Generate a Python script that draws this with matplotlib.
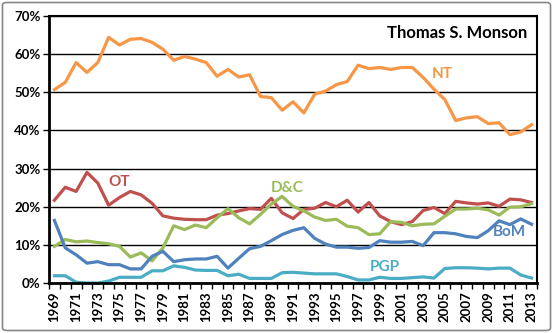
import numpy as np
import matplotlib
matplotlib.use("Agg")
from matplotlib import pyplot as plt
from matplotlib.patches import FancyBboxPatch

plt.rcParams["font.family"] = ["Lato", "DejaVu Sans"]
plt.rcParams["font.weight"] = "bold"

godine = list(range(1969, 2014))

nt = [50.7, 52.6, 57.8, 55.2, 57.8, 64.4, 62.4, 63.9, 64.1, 63.1,
      61.3, 58.4, 59.4, 58.7, 57.8, 54.2, 56.0, 54.0, 54.6, 48.9,
      48.6, 45.3, 47.5, 44.6, 49.5, 50.3, 52.0, 52.8, 57.1, 56.2,
      56.5, 56.0, 56.5, 56.5, 53.9, 50.8, 48.1, 42.6, 43.3, 43.6,
      41.8, 42.0, 38.9, 39.6, 41.5]
ot = [21.7, 25.1, 24.0, 29.0, 26.2, 20.4, 22.4, 24.0, 23.1, 20.9,
      17.6, 17.0, 16.7, 16.6, 16.6, 17.8, 18.2, 18.9, 19.5, 19.3,
      22.2, 18.4, 16.9, 19.3, 19.6, 21.1, 20.0, 21.7, 18.6, 21.1,
      17.6, 16.1, 15.3, 16.1, 19.0, 19.8, 18.2, 21.4, 21.0, 20.7,
      21.0, 20.1, 22.0, 21.8, 21.1]
dc = [9.6, 11.4, 10.8, 11.0, 10.6, 10.3, 9.6, 6.8, 7.9, 5.8,
      9.2, 15.0, 14.0, 15.2, 14.5, 17.1, 19.5, 17.1, 15.5, 18.0,
      20.7, 22.7, 20.1, 18.9, 17.3, 16.4, 16.7, 14.9, 14.5, 12.7,
      12.9, 16.1, 15.9, 15.0, 15.4, 15.5, 17.5, 19.4, 19.4, 19.6,
      19.2, 17.8, 19.9, 20.0, 20.8]
bom = [16.4, 9.2, 7.4, 5.2, 5.6, 4.8, 4.8, 3.7, 3.7, 7.0,
       8.3, 5.6, 6.1, 6.3, 6.3, 7.0, 3.9, 6.5, 9.0, 9.6,
       11.1, 12.7, 13.8, 14.5, 11.7, 10.2, 9.4, 9.4, 9.1, 9.3,
       11.1, 10.7, 10.7, 10.9, 9.8, 13.2, 13.2, 12.9, 12.2, 11.9,
       13.7, 16.3, 15.3, 16.8, 15.4]
pgp = [1.9, 1.9, 0.2, 0.0, 0.0, 0.5, 1.5, 1.5, 1.5, 3.2,
       3.2, 4.5, 4.1, 3.4, 3.3, 3.3, 1.9, 2.3, 1.2, 1.2,
       1.2, 2.7, 2.8, 2.6, 2.4, 2.4, 2.4, 1.7, 0.8, 0.8,
       1.5, 1.2, 1.2, 1.4, 1.6, 1.3, 3.8, 4.0, 4.0, 3.9,
       3.7, 3.9, 3.9, 2.1, 1.3]

serije = [
    ("NT", nt, "#F79646", 442, 74),
    ("OT", ot, "#C0504D", 119, 182),
    ("D&C", dc, "#9BBB59", 287, 188),
    ("BoM", bom, "#4F81BD", 509, 232),
    ("PGP", pgp, "#4BACC6", 385, 267),
]

figura = plt.figure(figsize=(5.53, 3.33), dpi=100)
W, H = 553, 333

# okvir oko cele slike
okvir = FancyBboxPatch((2.5 / W, 2.5 / H), 1 - 5 / W, 1 - 5 / H,
                       boxstyle="round,pad=0,rounding_size=0.008",
                       transform=figura.transFigure, facecolor="none",
                       edgecolor="#868686", linewidth=1.2)
figura.patches.append(okvir)

ax = figura.add_axes([49 / W, 1 - 283 / H, (537 - 49) / W, (283 - 16) / H])
x = np.arange(len(godine))

for naziv, vrednosti, boja, tx, ty in serije:
    ax.plot(x, vrednosti, color=boja, linewidth=2.3, solid_joinstyle="round")
    figura.text(tx / W, 1 - ty / H, naziv, color=boja, fontsize=11,
                fontweight="bold", ha="center", va="center")

figura.text(527 / W, 1 - 33 / H, "Thomas S. Monson", color="black",
            fontsize=12, fontweight="bold", ha="right", va="center")

ax.set_xlim(-0.5, len(godine) - 0.5)
ax.set_ylim(0, 70)
ax.set_yticks(range(0, 71, 10))
ax.set_yticklabels([f"{v}%" for v in range(0, 71, 10)], fontsize=9.5,
                   fontweight="bold")
ax.set_xticks(x[::2])
ax.set_xticklabels([str(g) for g in godine[::2]], rotation=90,
                   fontsize=9.5, fontweight="bold")
ax.set_xticks(np.arange(-0.5, len(godine), 1), minor=True)
ax.tick_params(axis="x", which="major", length=0, pad=6)
ax.tick_params(axis="x", which="minor", length=4, width=1, direction="out")
ax.tick_params(axis="y", length=4, width=1, direction="out", pad=2)

ax.grid(axis="y", color="black", linewidth=1)
ax.set_axisbelow(True)
for strana in ax.spines.values():
    strana.set_linewidth(1.5)
ax.spines["left"].set_linewidth(2)
ax.spines["bottom"].set_linewidth(2)

figura.savefig("out.png", dpi=100)
